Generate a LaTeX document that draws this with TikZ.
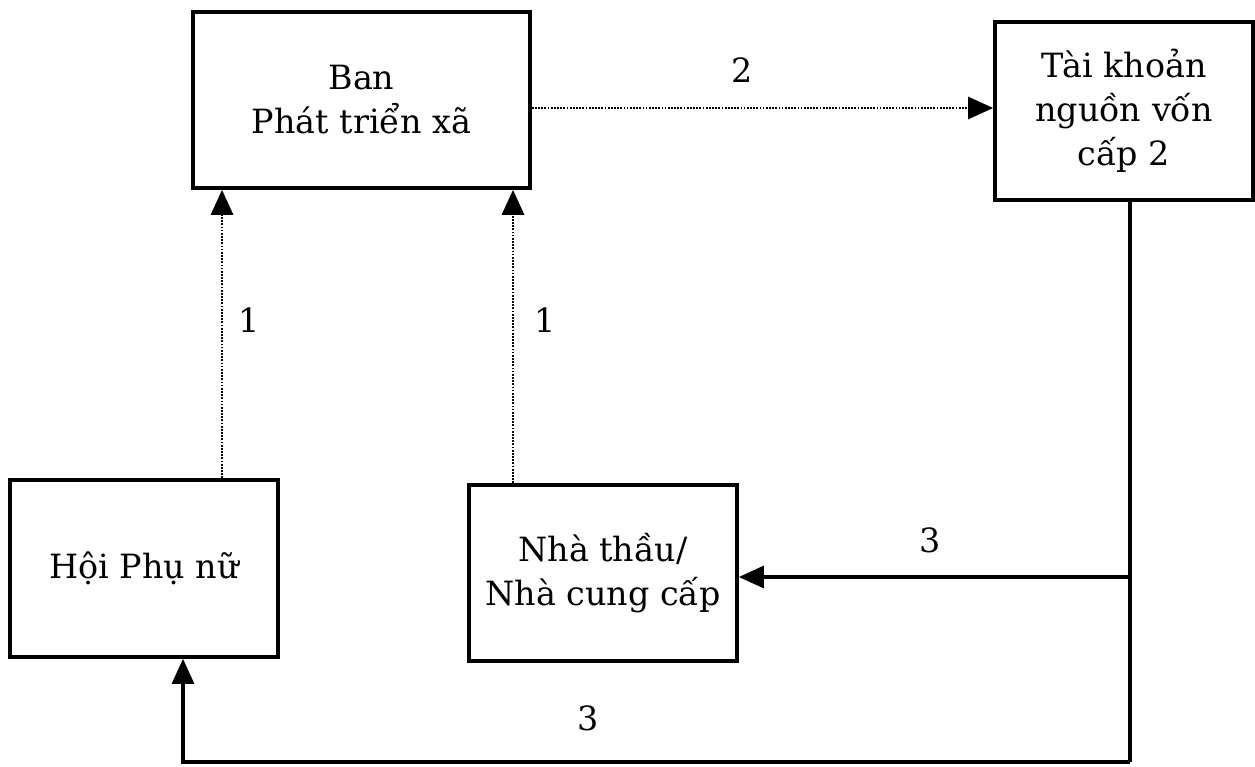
\documentclass[tikz,border=0pt]{standalone}
\usepackage{fontspec}
\setmainfont{DejaVu Serif}
\usetikzlibrary{arrows.meta}
\begin{document}
\begin{tikzpicture}[x=0.02cm,y=-0.02cm,
  box/.style={draw,line width=2.1pt,rectangle,inner sep=0pt,align=center,
    font=\fontsize{19}{25}\selectfont},
  lbl/.style={font=\fontsize{19}{22}\selectfont},
  tip/.style={-{Triangle[length=0.5cm,width=0.44cm]}},
  dotarrow/.style={tip,line width=1.7pt,dash pattern=on 1pt off 0.8pt},
  solidline/.style={line width=1.8pt},
  solidarrow/.style={tip,solidline}]
\useasboundingbox (0,0) rectangle (1255,767);

% boxes
\node[box,minimum width=0.02cm*337,minimum height=0.02cm*176] (ban) at (361.5,100)
  {Ban\\Phát triển xã};
\node[box,minimum width=0.02cm*258,minimum height=0.02cm*178] (tk) at (1124,111)
  {Tài khoản\\nguồn vốn\\cấp 2};
\node[box,minimum width=0.02cm*268,minimum height=0.02cm*177] (hoi) at (144,568.5)
  {Hội Phụ nữ};
\node[box,minimum width=0.02cm*268,minimum height=0.02cm*176] (nha) at (603,573)
  {Nhà thầu/\\Nhà cung cấp};

% step 1: reports up to the commune board
\draw[dotarrow] (hoi.north -| 222,0) -- (ban.south -| 222,0);
\draw[dotarrow] (nha.north -| 513,0) -- (ban.south -| 513,0);
\node[lbl] (l1a) at (249,320) {1};
\node[lbl] (l1b) at (545,320) {1};

% step 2: board to the level-2 account
\draw[dotarrow] (ban.east |- 0,108) -- (tk.west |- 0,108);
\node[lbl] (l2) at (742,70) {2};

% step 3: payments from the account
\coordinate (j) at (1130,577);
\coordinate (c1) at (1130,762);
\coordinate (c2) at (183,762);
\draw[solidline] (tk.south -| j) -- (c1);
\draw[solidarrow] (j) -- (nha.east |- j);
\draw[solidarrow] (c1) -- (c2) -- (hoi.south -| c2);
\node[lbl] (l3a) at (930,540) {3};
\node[lbl] (l3b) at (588,718) {3};
\end{tikzpicture}
\end{document}
